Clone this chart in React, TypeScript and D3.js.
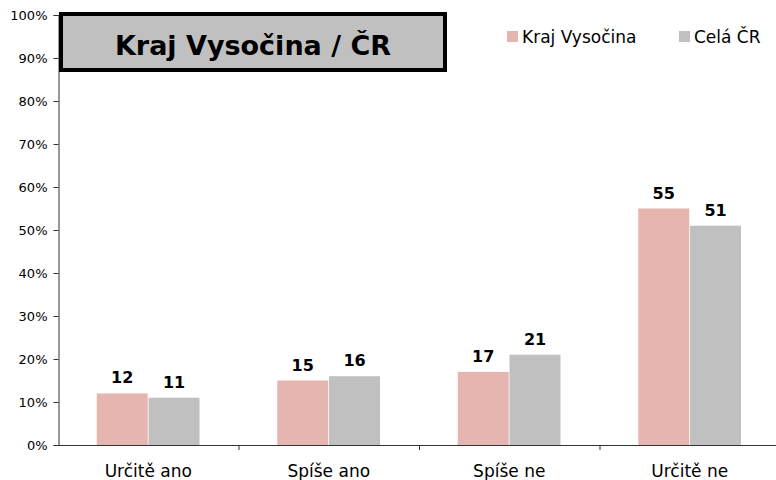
import { useEffect, useRef } from "react";
import * as d3 from "d3";

const categories = ["Určitě ano", "Spíše ano", "Spíše ne", "Určitě ne"];
const seriesNames = ["Kraj Vysočina", "Celá ČR"];
const krajValues = [12, 15, 17, 55];
const crValues = [11, 16, 21, 51];
const yTicks = [0, 10, 20, 30, 40, 50, 60, 70, 80, 90, 100];
const colors = ["#e6b5b0", "#c0c0c0"];

const W = 776;
const H = 480;
const font = "'DejaVu Sans', Verdana, sans-serif";

export default function App() {
  const gx = useRef<SVGGElement>(null);
  const gy = useRef<SVGGElement>(null);

  const marginLeft = 58;
  const plotRight = 780;
  const y0 = 445;
  const y100 = 15;

  const x = d3.scaleBand().domain(categories).range([marginLeft, plotRight]).paddingInner(0).paddingOuter(0);
  const y = d3.scaleLinear().domain([0, 100]).range([y0, y100]);
  const barW = 51;
  const inner = d3.scaleBand().domain(seriesNames).range([0, barW * 2 + 1]).paddingInner(0.01);

  useEffect(() => {
    const ax = d3.select(gx.current!);
    ax.call(d3.axisBottom(x).tickSize(0).tickFormat(() => ""));
    ax.selectAll(".tick").remove();
    ax.select(".domain").attr("stroke", "#333").attr("d", `M${marginLeft},0.5H${plotRight}`);
    // category separators
    const bounds = categories.map((c) => x(c)!).slice(1).concat([plotRight]);
    ax.selectAll("line.sep")
      .data(bounds)
      .join("line")
      .attr("class", "sep")
      .attr("x1", (d) => d + 0.5)
      .attr("x2", (d) => d + 0.5)
      .attr("y1", 0)
      .attr("y2", 5)
      .attr("stroke", "#333");

    const ay = d3.select(gy.current!);
    ay.call(
      d3.axisLeft(y).tickValues(yTicks).tickSize(5).tickPadding(6).tickFormat((d) => `${d}%`)
    );
    ay.select(".domain").attr("stroke", "#333");
    ay.selectAll(".tick line").attr("stroke", "#333");
    ay.selectAll(".tick text").attr("font-family", font).attr("font-size", 13).attr("fill", "#000");
  }, []);

  const series = [krajValues, crValues];
  const pad = (x.bandwidth() - (barW * 2 + 1)) / 2;

  return (
    <svg width={W} height={H} style={{ position: "absolute", left: 0, top: 0, fontFamily: font }}>
      <rect width={W} height={H} fill="#fff" />
      <g ref={gy} transform={`translate(${marginLeft + 0.5},0)`} />
      <g ref={gx} transform={`translate(0,${y0})`} />

      {series.map((vals, si) => (
        <g key={si} fill={colors[si]}>
          {vals.map((v, i) => {
            const bx = x(categories[i])! + pad + inner(seriesNames[si])!;
            return (
              <g key={i}>
                <rect x={bx} y={y(v)} width={barW} height={y(0) - y(v)} />
                <text
                  x={bx + barW / 2}
                  y={y(v) - 10}
                  textAnchor="middle"
                  fontWeight="bold"
                  fontSize={16}
                  fill="#000"
                >
                  {v}
                </text>
              </g>
            );
          })}
        </g>
      ))}

      {categories.map((c) => (
        <text key={c} x={x(c)! + x.bandwidth() / 2} y={477} textAnchor="middle" fontSize={17} fill="#000">
          {c}
        </text>
      ))}

      <rect x={61} y={14} width={384} height={56} fill="#c0c0c0" stroke="#000" strokeWidth={4} />
      <text x={253} y={55} textAnchor="middle" fontWeight="bold" fontSize={27} fill="#000">
        Kraj Vysočina / ČR
      </text>

      {seriesNames.map((s, i) => {
        const lx = [507, 679][i];
        return (
          <g key={s}>
            <rect x={lx} y={31} width={11} height={11} fill={colors[i]} />
            <text x={lx + 15} y={43} fontSize={17} fill="#000">
              {s}
            </text>
          </g>
        );
      })}
    </svg>
  );
}
